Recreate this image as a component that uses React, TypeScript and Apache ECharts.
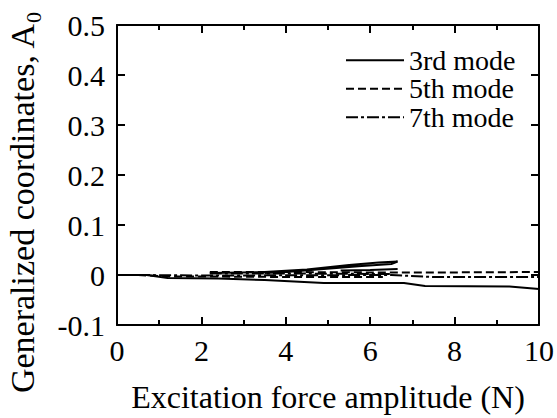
import React, { useEffect, useRef } from "react";
import * as echarts from "echarts";

const FONT = "Liberation Serif";

const legendNames = ["3rd mode", "5th mode", "7th mode"];

const mode3Lower: [number, number][] = [
  [0, 0], [0.7, 0], [1.2, -0.006], [2.4, -0.007], [3.5, -0.01], [4.9, -0.016],
  [6.8, -0.016], [7.3, -0.022], [9.3, -0.023], [10, -0.028],
];
const mode3Upper: [number, number][] = [
  [2.2, 0.004], [3.5, 0.006], [4.5, 0.011], [5.5, 0.02], [6.2, 0.025], [6.65, 0.027],
  [6.5, 0.022], [5.8, 0.018], [4.9, 0.012], [4.0, 0.006], [3.5, 0.004],
];
const mode3Inner: [number, number][] = [
  [5.3, 0.009], [6.0, 0.01], [6.65, 0.012],
];
const mode5A: [number, number][] = [
  [0.5, 0], [1.2, -0.003], [2.2, -0.003], [4.0, -0.004], [6.3, -0.004],
];
const mode5B: [number, number][] = [
  [2.2, 0.006], [4.0, 0.006], [6.5, 0.005], [7.5, 0.005], [10, 0.006],
];
const mode7A: [number, number][] = [
  [0.5, 0], [2.2, -0.001], [6.5, 0], [7.5, -0.004], [10, -0.004],
];
const mode7B: [number, number][] = [
  [2.2, 0.003], [4.0, 0.003], [6.5, 0.002],
];

const xTitle = "Excitation force amplitude (N)";
const yTitle = "Generalized coordinates, A";
const ySub = "0";

export default function App() {
  const ref = useRef<HTMLDivElement>(null);
  useEffect(() => {
    document.body.style.margin = "0";
    if (!ref.current) return;
    const chart = echarts.init(ref.current, undefined, { renderer: "svg" });
    const lineStyle = (type: any) => ({ color: "#000", width: 2, type });
    const solid = lineStyle("solid");
    const dashed = lineStyle([8, 4]);
    const dashDot = lineStyle([12, 3, 3, 3]);
    const mk = (name: string, data: [number, number][], ls: any) => ({
      name,
      type: "line",
      data,
      symbol: "none",
      showSymbol: false,
      lineStyle: ls,
      itemStyle: { color: "#000" },
      z: 3,
    });
    const axisCommon = {
      axisLine: { show: true, onZero: false, lineStyle: { color: "#000", width: 2 } },
      splitLine: { show: false },
    };
    chart.setOption({
      animation: false,
      backgroundColor: "#fff",
      grid: { left: 117, right: 14, top: 25, bottom: 93, containLabel: false },
      legend: {
        data: legendNames,
        orient: "vertical",
        left: 345,
        top: 46,
        padding: 0,
        itemWidth: 58,
        itemHeight: 14,
        itemGap: 0,
        itemStyle: { opacity: 0 },
        textStyle: { fontFamily: FONT, fontSize: 28, color: "#000", lineHeight: 28.5 },
        inactiveColor: "#000",
      },
      xAxis: [
        {
          type: "value",
          min: 0,
          max: 10,
          interval: 2,
          ...axisCommon,
          axisTick: { show: true, inside: true, length: 8, lineStyle: { color: "#000", width: 2 } },
          minorTick: { show: true, splitNumber: 2, length: 5, lineStyle: { color: "#000", width: 2 } },
          axisLabel: { fontFamily: FONT, fontSize: 30, color: "#000", margin: 10 },
          name: xTitle,
          nameLocation: "middle",
          nameGap: 56,
          nameTextStyle: { fontFamily: FONT, fontSize: 32, color: "#000" },
        },
        {
          type: "value",
          position: "top",
          min: 0,
          max: 10,
          interval: 2,
          ...axisCommon,
          axisTick: { show: true, inside: true, length: 8, lineStyle: { color: "#000", width: 2 } },
          minorTick: { show: true, splitNumber: 2, length: 5, lineStyle: { color: "#000", width: 2 } },
          axisLabel: { show: false },
        },
      ],
      yAxis: [
        {
          type: "value",
          min: -0.1,
          max: 0.5,
          interval: 0.1,
          ...axisCommon,
          axisTick: { show: true, inside: true, length: 8, lineStyle: { color: "#000", width: 2 } },
          axisLabel: {
            fontFamily: FONT,
            fontSize: 30,
            color: "#000",
            margin: 12,
            formatter: (v: number) => String(Number(v.toFixed(1))),
          },
        },
        {
          type: "value",
          position: "right",
          min: -0.1,
          max: 0.5,
          interval: 0.1,
          ...axisCommon,
          axisTick: { show: true, inside: true, length: 8, lineStyle: { color: "#000", width: 2 } },
          axisLabel: { show: false },
        },
      ],
      graphic: [
        {
          type: "text",
          x: 22,
          y: 203,
          rotation: Math.PI / 2,
          style: {
            text: `{m|${yTitle}}{s|${ySub}}`,
            align: "center",
            verticalAlign: "middle",
            rich: {
              m: { fontFamily: FONT, fontSize: 34, lineHeight: 44, fill: "#000", verticalAlign: "middle" },
              s: { fontFamily: FONT, fontSize: 22, lineHeight: 21, fill: "#000", verticalAlign: "bottom" },
            },
          },
        },
      ],
      series: [
        mk("3rd mode", mode3Lower, solid),
        mk("5th mode", mode5A, dashed),
        mk("7th mode", mode7A, dashDot),
        mk("3rd mode", mode3Upper, solid),
        mk("3rd mode", mode3Inner, solid),
        mk("5th mode", mode5B, dashed),
        mk("7th mode", mode7B, dashDot),
      ],
    });
    return () => chart.dispose();
  }, []);
  return <div ref={ref} style={{ width: 557, height: 418 }} />;
}
